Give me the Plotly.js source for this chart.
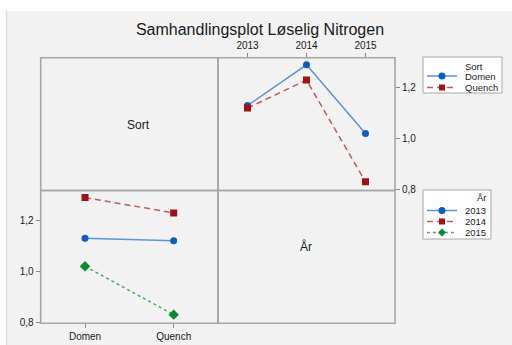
<!DOCTYPE html>
<html>
<head>
<meta charset="utf-8">
<script src="https://cdn.plot.ly/plotly-3.0.1.min.js"></script>
<style>html,body{margin:0;padding:0;background:#fff;}#chart{width:512px;height:345px;}</style>
</head>
<body>
<div id="chart"></div>
<script>
// Data
const years = ['2013', '2014', '2015'];
const sorts = ['Domen', 'Quench'];
const domenByYear = [1.13, 1.29, 1.02];
const quenchByYear = [1.12, 1.23, 0.83];
const y2013BySort = [1.13, 1.12];
const y2014BySort = [1.29, 1.23];
const y2015BySort = [1.02, 0.83];
const yTickVals = [0.8, 1.0, 1.2];

const W = 512, H = 345;
const px = v => v / W;
const py = v => 1 - v / H;
const gx0 = 40.7, gxm = 218, gx1 = 395;
const gy0 = 57.7, gym = 190.5, gy1 = 323.3;

const blueM = '#0d5fbf', blueL = '#5b95d8';
const redM = '#a30f12', redL = '#c8585a';
const greenM = '#0a8a2c', greenL = '#45ad52';

const styles = {
  blue: {line: {color: blueL, width: 1.5}, marker: {color: blueM, size: 7, symbol: 'circle'}},
  red: {line: {color: redL, width: 1.5, dash: '6px,4px'}, marker: {color: redM, size: 7, symbol: 'square'}},
  green: {line: {color: greenL, width: 1.5, dash: '3px,3px'}, marker: {color: greenM, size: 8, symbol: 'diamond'}}
};

function tr(x, y, name, xa, ya, st) {
  return {x: x, y: y, name: name, xaxis: xa, yaxis: ya, mode: 'lines+markers', showlegend: false,
    line: st.line, marker: st.marker};
}

const traces = [
  tr(years, domenByYear, sorts[0], 'x', 'y', styles.blue),
  tr(years, quenchByYear, sorts[1], 'x', 'y', styles.red),
  tr(sorts, y2013BySort, years[0], 'x2', 'y2', styles.blue),
  tr(sorts, y2014BySort, years[1], 'x2', 'y2', styles.red),
  tr(sorts, y2015BySort, years[2], 'x2', 'y2', styles.green)
];

const tickFont = {family: 'Liberation Sans, Arial, sans-serif', size: 10, color: '#1a1a1a'};
const axisCommon = {showgrid: false, zeroline: false, showline: false, ticks: 'outside', ticklen: 4,
  tickcolor: '#888', tickwidth: 1, tickfont: tickFont, fixedrange: true};
const yRange = [0.796, 1.318];

const border = {type: 'rect', xref: 'paper', yref: 'paper', line: {color: '#a6a6a6', width: 1.6}, fillcolor: 'rgba(0,0,0,0)', layer: 'above'};

const shapes = [
  {type: 'rect', xref: 'paper', yref: 'paper', x0: px(6), x1: 1, y0: 0, y1: py(11),
   fillcolor: '#f2f2f2', line: {width: 0}, layer: 'below'},
  {type: 'line', xref: 'paper', yref: 'paper', x0: px(6.5), x1: px(6.5), y0: 0, y1: py(11),
   line: {color: '#dcdcdc', width: 1.5}, layer: 'below'},
  Object.assign({}, border, {x0: px(gx0), x1: px(gxm), y0: py(gym), y1: py(gy0)}),
  Object.assign({}, border, {x0: px(gxm), x1: px(gx1), y0: py(gym), y1: py(gy0)}),
  Object.assign({}, border, {x0: px(gx0), x1: px(gxm), y0: py(gy1), y1: py(gym)}),
  Object.assign({}, border, {x0: px(gxm), x1: px(gx1), y0: py(gy1), y1: py(gym)})
];

const annotations = [
  {text: 'Sort', xref: 'paper', yref: 'paper', x: px(125), y: py(125), showarrow: false,
   font: {size: 12, color: '#1a1a1a'}},
  {text: 'År', xref: 'paper', yref: 'paper', x: px(306), y: py(256), showarrow: false,
   font: {size: 12, color: '#1a1a1a'}}
];

// Compact legends (Minitab style)
const legFont = {family: 'Liberation Sans, Arial, sans-serif', size: 9.5, color: '#1a1a1a'};
function markerShape(sym, color, cx, cy) {
  const base = {xref: 'paper', yref: 'paper', xsizemode: 'pixel', ysizemode: 'pixel',
    xanchor: px(cx), yanchor: py(cy), fillcolor: color, line: {width: 0}, layer: 'above'};
  if (sym === 'circle') return Object.assign(base, {type: 'circle', x0: -3.5, x1: 3.5, y0: -3.5, y1: 3.5});
  if (sym === 'square') return Object.assign(base, {type: 'rect', x0: -3, x1: 3, y0: -3, y1: 3});
  return Object.assign(base, {type: 'path', path: 'M -4 0 L 0 4 L 4 0 L 0 -4 Z'});
}
function addLegend(box, title, titleX, titleY, names, sts, textX, rowYs, align) {
  shapes.push({type: 'rect', xref: 'paper', yref: 'paper', x0: px(box[0]), x1: px(box[1]),
    y0: py(box[3]), y1: py(box[2]), fillcolor: '#ffffff', line: {color: '#a6a6a6', width: 1}, layer: 'above'});
  annotations.push({text: title, xref: 'paper', yref: 'paper', x: px(titleX), y: py(titleY),
    xanchor: align, yanchor: 'middle', showarrow: false, font: legFont});
  names.forEach((n, i) => {
    const st = sts[i], yy = rowYs[i];
    shapes.push({type: 'line', xref: 'paper', yref: 'paper', x0: px(427), x1: px(457), y0: py(yy), y1: py(yy),
      line: {color: st.line.color, width: 1.5, dash: st.line.dash || 'solid'}, layer: 'above'});
    shapes.push(markerShape(st.marker.symbol, st.marker.color, 442, yy));
    annotations.push({text: n, xref: 'paper', yref: 'paper', x: px(textX), y: py(yy),
      xanchor: align, yanchor: 'middle', showarrow: false, font: legFont});
  });
}
addLegend([423, 502, 57, 93], 'Sort', 463, 66.5, sorts, [styles.blue, styles.red], 463, [76, 87.5], 'left');
addLegend([423, 491, 190, 239], 'År', 489, 197, years, [styles.blue, styles.red, styles.green], 487.5, [210.5, 221.5, 232.5], 'right');

const layout = {
  width: W, height: H,
  margin: {l: 0, r: 0, t: 0, b: 0, pad: 0},
  paper_bgcolor: '#ffffff',
  plot_bgcolor: '#ffffff',
  separators: ', ',
  showlegend: false,
  font: {family: 'Liberation Sans, Arial, sans-serif', color: '#1a1a1a'},
  title: {text: 'Samhandlingsplot Løselig Nitrogen', font: {size: 16, color: '#1a1a1a'},
    x: px(260), xanchor: 'center', y: py(29.5), yanchor: 'middle'},
  xaxis: Object.assign({}, axisCommon, {domain: [px(gxm), px(gx1)], anchor: 'y', side: 'top',
    type: 'category', range: [-0.5, 2.5]}),
  yaxis: Object.assign({}, axisCommon, {domain: [py(gym), py(gy0)], anchor: 'x', side: 'right',
    range: yRange, tickvals: yTickVals, tickformat: '.1f'}),
  xaxis2: Object.assign({}, axisCommon, {domain: [px(gx0), px(gxm)], anchor: 'y2', side: 'bottom',
    type: 'category', range: [-0.5, 1.5]}),
  yaxis2: Object.assign({}, axisCommon, {domain: [py(gy1), py(gym)], anchor: 'x2', side: 'left',
    range: yRange, tickvals: yTickVals, tickformat: '.1f'}),
  shapes: shapes,
  annotations: annotations
};

Plotly.newPlot('chart', traces, layout, {displayModeBar: false, staticPlot: true});
</script>
</body>
</html>
